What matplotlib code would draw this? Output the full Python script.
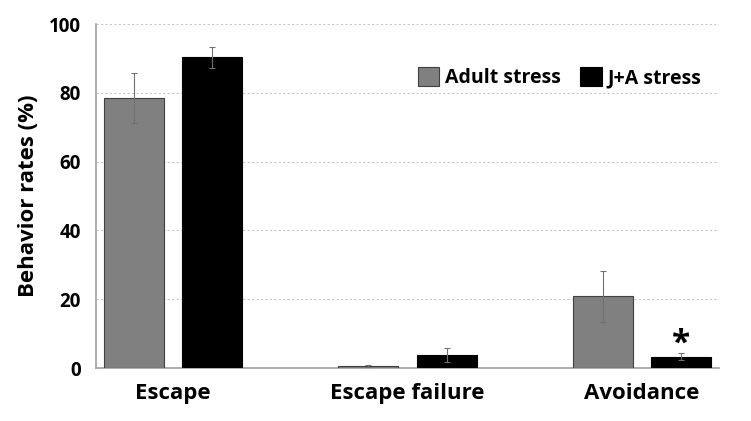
import numpy as np
import matplotlib.pyplot as plt

categories = ["Escape", "Escape failure", "Avoidance"]
adult = [78.5, 0.5, 20.8]
adult_err = [7.3, 0.3, 7.4]
ja = [90.3, 3.8, 3.3]
ja_err = [3.1, 2.0, 1.0]

plt.rcParams['font.family'] = ['Open Sans', 'DejaVu Sans']
plt.rcParams['font.weight'] = 'bold'

fig = plt.figure(figsize=(7.51, 4.21), dpi=100)
ax = fig.add_axes([96 / 751, 53 / 421, 623 / 751, 344 / 421])

x = np.arange(len(categories))
w = 0.256
off = 0.167
ax.bar(x - off, adult, w, yerr=adult_err, color='#808080', edgecolor='#404040',
       linewidth=0.8, error_kw=dict(ecolor='#707070', elinewidth=0.8, capsize=2, capthick=0.8),
       label='Adult stress', zorder=3)
ax.bar(x + off, ja, w, yerr=ja_err, color='black', edgecolor='black',
       linewidth=0.8, error_kw=dict(ecolor='#707070', elinewidth=0.8, capsize=2, capthick=0.8),
       label='J+A stress', zorder=3)

# significance marker
ax.text(x[2] + off, ja[2] + ja_err[2] - 2.3, '*', ha='center', va='bottom',
        fontsize=24, fontweight='bold')

ax.set_xlim(-0.33, 2.33)
ax.set_ylim(0, 100)
ax.set_yticks([0, 20, 40, 60, 80, 100])
ax.set_xticks(x)
ax.set_xticklabels(categories, fontsize=16, fontweight='bold')
ax.tick_params(axis='y', labelsize=13.5, length=0, pad=11)
ax.tick_params(axis='x', length=0, pad=11)
ax.set_ylabel('Behavior rates (%)', fontsize=16, fontweight='bold', labelpad=7)

ax.yaxis.grid(True, linestyle=(0, (2, 2)), color='#c8c8c8', linewidth=0.8, zorder=0)
ax.set_axisbelow(True)
for s in ['top', 'right']:
    ax.spines[s].set_visible(False)
for s in ['left', 'bottom']:
    ax.spines[s].set_color('#a0a0a0')
    ax.spines[s].set_linewidth(1.2)

ax.legend(loc='upper right', bbox_to_anchor=(1.0, 0.925), ncol=2, frameon=False,
          handlelength=1.1, handleheight=1.1, handletextpad=0.3,
          columnspacing=1.0, prop={'weight': 'bold', 'size': 14})

fig.savefig('out.png', dpi=100)
